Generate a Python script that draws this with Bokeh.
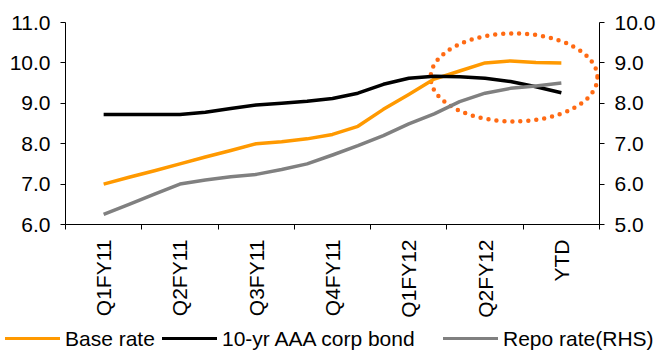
import math
from bokeh.plotting import figure
from bokeh.layouts import column
from bokeh.models import (Range1d, LinearAxis, FixedTicker, NumeralTickFormatter, Div)
from bokeh.embed import file_html
from bokeh.resources import INLINE

# Monthly observations, labelled by quarter (every third month) plus YTD
quarters = ["Q1FY11", "Q2FY11", "Q3FY11", "Q4FY11", "Q1FY12", "Q2FY12", "YTD"]
months = list(range(19))

base_rate = [7.00, 7.17, 7.33, 7.50, 7.67, 7.83, 8.00, 8.05, 8.12, 8.23,
             8.43, 8.85, 9.22, 9.60, 9.80, 10.00, 10.05, 10.01, 10.00]
aaa_bond_10y = [8.72, 8.72, 8.72, 8.72, 8.78, 8.87, 8.96, 9.00, 9.05, 9.12,
                9.25, 9.47, 9.62, 9.67, 9.66, 9.62, 9.54, 9.41, 9.26]
repo_rate = [5.25, 5.50, 5.75, 6.00, 6.10, 6.18, 6.24, 6.36, 6.50, 6.72,
             6.95, 7.20, 7.49, 7.74, 8.04, 8.25, 8.37, 8.43, 8.50]

series_names = ["Base rate", "10-yr AAA corp bond", "Repo rate(RHS)"]
series_colors = ["#FF9900", "#000000", "#808080"]

# Highlighted region around the latest readings (left-axis units)
highlight_x, highlight_y = 16.14, 9.64
highlight_w, highlight_h = 6.56, 2.18

FONT = "Liberation Sans"
FS = "21px"
LW = 3.5

p = figure(width=659, height=322, output_backend="svg", toolbar_location=None,
           x_range=Range1d(-1.5, 19.5), y_range=Range1d(6, 11),
           min_border_left=65, min_border_right=60, min_border_top=22,
           min_border_bottom=98, outline_line_color=None,
           x_axis_location=None, y_axis_location=None)
p.grid.visible = False
p.extra_y_ranges = {"rhs": Range1d(5, 10)}

def style_axis(ax):
    ax.axis_line_color = "black"
    ax.axis_line_width = 1
    ax.major_tick_in = 0
    ax.major_tick_out = 5
    ax.minor_tick_line_color = None
    ax.major_label_text_font = FONT
    ax.major_label_text_font_size = FS
    ax.major_label_text_color = "black"
    ax.major_label_standoff = 10

left = LinearAxis(ticker=FixedTicker(ticks=[6, 7, 8, 9, 10, 11]),
                  formatter=NumeralTickFormatter(format="0.0"))
style_axis(left)
p.add_layout(left, "left")

right = LinearAxis(y_range_name="rhs", ticker=FixedTicker(ticks=[5, 6, 7, 8, 9, 10]),
                   formatter=NumeralTickFormatter(format="0.0"))
style_axis(right)
p.add_layout(right, "right")

# Quarter labels sit mid-span; tick marks (minor ticks) sit on the boundaries
label_pos = [3 * i for i in range(len(quarters))]
bounds = [3 * i - 1.5 for i in range(len(quarters) + 1)]
bottom = LinearAxis(ticker=FixedTicker(ticks=label_pos, minor_ticks=bounds))
style_axis(bottom)
bottom.major_tick_line_color = None
bottom.minor_tick_line_color = "black"
bottom.minor_tick_in = 0
bottom.minor_tick_out = 5
bottom.major_label_orientation = math.pi / 2
bottom.major_label_standoff = 10
bottom.major_label_overrides = {pos: q for pos, q in zip(label_pos, quarters)}
p.add_layout(bottom, "below")

p.ellipse(x=highlight_x, y=highlight_y, width=highlight_w, height=highlight_h,
          fill_color=None, line_color="#FF6A13", line_width=4.5,
          line_dash="0 8", line_cap="round")

p.line(months, base_rate, line_color=series_colors[0], line_width=LW, line_join="round")
p.line(months, aaa_bond_10y, line_color=series_colors[1], line_width=LW, line_join="round")
p.line(months, repo_rate, line_color=series_colors[2], line_width=LW, line_join="round",
       y_range_name="rhs")

# Legend strip underneath the chart: swatch + label per series
slot_widths = ["157px", "281px", "auto"]
entries = []
for name, color, w in zip(series_names, series_colors, slot_widths):
    entries.append(
        f'<span style="display:inline-block;width:{w};white-space:nowrap">'
        f'<span style="display:inline-block;width:55px;height:0;'
        f'border-top:{LW}px solid {color};vertical-align:middle;margin-right:5px"></span>'
        f'<span style="vertical-align:middle">{name}</span></span>')
legend_html = (f'<div style="white-space:nowrap;font-family:\'{FONT}\';font-size:{FS};'
               f'color:#000;line-height:29px;padding-left:5px">' + "".join(entries) + "</div>")
legend = Div(text=legend_html, width=659, height=29,
             styles={"margin": "0", "padding": "0", "overflow": "visible"})

layout = column(p, legend, spacing=0)
open("out.html", "w").write(file_html(layout, INLINE))
